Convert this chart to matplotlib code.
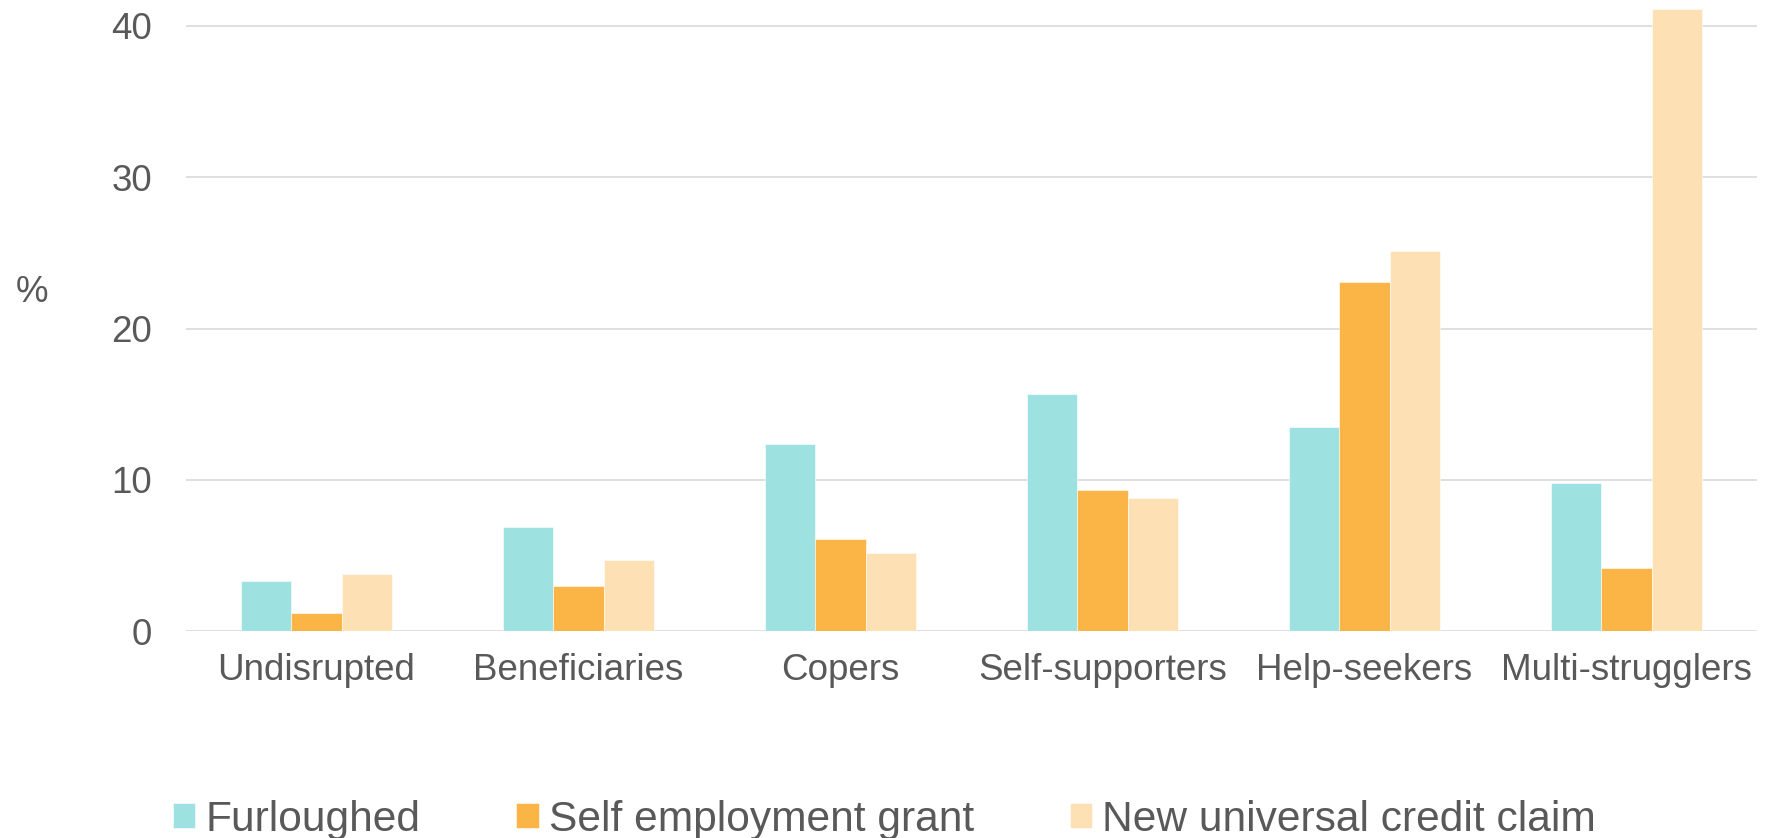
import matplotlib.pyplot as plt
import numpy as np

# Share of each group receiving support, by support type (%)
groups = ['Undisrupted', 'Beneficiaries', 'Copers', 'Self-supporters',
          'Help-seekers', 'Multi-strugglers']
furloughed = [3.3, 6.9, 12.4, 15.7, 13.5, 9.8]
self_employment = [1.2, 3.0, 6.1, 9.3, 23.1, 4.2]
universal_credit = [3.8, 4.7, 5.2, 8.8, 25.1, 41.1]

series_names = ['Furloughed', 'Self employment grant', 'New universal credit claim']
colors = ['#9de2e0', '#fbb547', '#fde0b4']
text_color = '#595959'

plt.rcParams['font.family'] = ['Liberation Sans', 'DejaVu Sans']

fig = plt.figure(figsize=(17.69, 8.38), dpi=100)
ax = fig.add_axes([0.1049, 0.2467, 0.8885, 0.7533])

x = np.arange(len(groups))
width = 0.1924
for i, (vals, name, col) in enumerate(zip([furloughed, self_employment, universal_credit],
                                          series_names, colors)):
    ax.bar(x + (i - 1) * width, vals, width, color=col, label=name,
           edgecolor='white', linewidth=0.4, zorder=3)

ax.set_xlim(-0.5, len(groups) - 0.5)
ax.set_ylim(0, 41.7)
ax.set_yticks([0, 10, 20, 30, 40])
ax.set_xticks(x)
ax.set_xticklabels(groups)

ax.grid(axis='y', color='#d9d9d9', linewidth=1.2, zorder=0)
for side in ax.spines.values():
    side.set_visible(False)
ax.tick_params(axis='both', length=0, labelsize=26.5, labelcolor=text_color)
ax.tick_params(axis='y', pad=24)
ax.tick_params(axis='x', pad=16)

ax.set_ylabel('%', rotation=0, fontsize=26.5, color=text_color, va='center', ha='center')
ax.yaxis.set_label_coords(-0.098, 0.536)

fig.legend(loc='center', bbox_to_anchor=(0.5, 0.022), ncol=3, frameon=False,
           fontsize=30.6, labelcolor=text_color, handlelength=0.53, handleheight=0.53,
           handletextpad=0.24, columnspacing=2.25, borderpad=0, borderaxespad=0)

fig.savefig('out.png', dpi=100)
